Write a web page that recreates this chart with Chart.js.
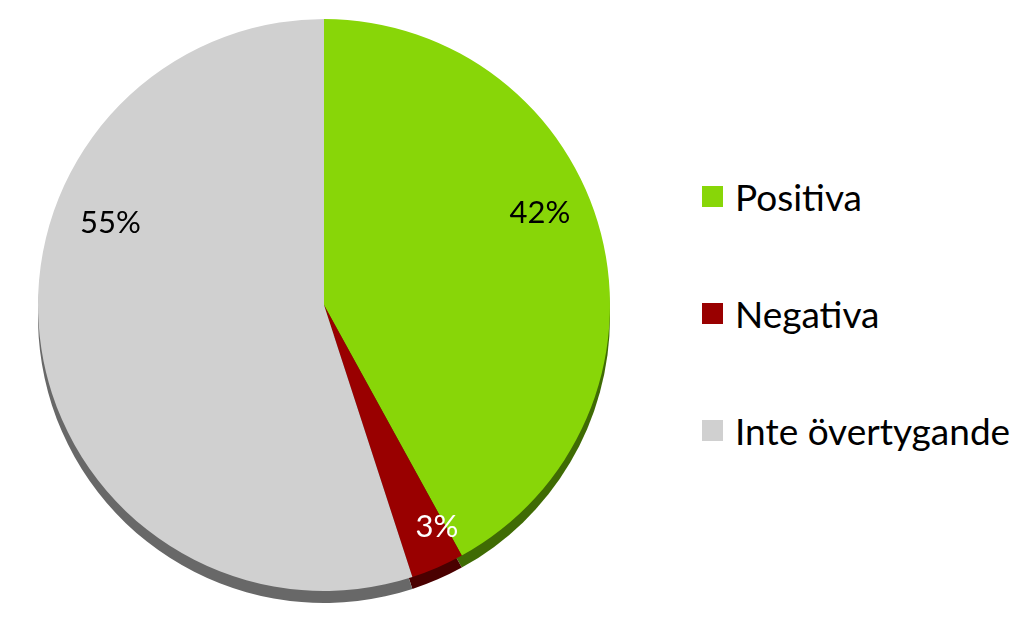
<!DOCTYPE html>
<html>
<head>
<meta charset="utf-8">
<script src="https://cdn.jsdelivr.net/npm/chart.js@4"></script>
<style>
  html, body { margin: 0; padding: 0; background: #fff; }
  #wrap { position: relative; width: 1024px; height: 630px; }
  #chartBox { position: absolute; left: 0; top: 0; width: 648px; height: 630px; }
  #legend { position: absolute; left: 702px; top: 0; font-family: Lato, "Open Sans", sans-serif; font-size: 37px; color: #000; }
  .item { position: absolute; left: 0; white-space: nowrap; display: flex; align-items: center; height: 44px; }
  .box { width: 21px; height: 21px; margin-right: 12px; }
</style>
</head>
<body>
<div id="wrap">
  <div id="chartBox"><canvas id="pie"></canvas></div>
  <div id="legend"></div>
</div>
<script>
// chart data
const categories = ["Positiva", "Negativa", "Inte övertygande"];
const shares = [42, 3, 55];
const pctLabels = ["42%", "3%", "55%"];

// styling
const faceColors = ["#88d608", "#990000", "#d0d0d0"];
const rimColors = ["#3f6b04", "#4a0000", "#686868"];
const labelColors = ["#000000", "#ffffff", "#000000"];
const labelPlace = [ // angle from top (deg, clockwise) and fraction of radius
  { angle: 67, r: 0.82 },
  { angle: 153, r: 0.87 },
  { angle: 291, r: 0.80 }
];
const rimDepth = 12;
const labelFont = "31px Lato";

// draws a darker copy of each slice shifted down, so a rim shows under the pie
const rimPlugin = {
  id: "rim",
  beforeDatasetsDraw(chart) {
    const ctx = chart.ctx;
    chart.getDatasetMeta(0).data.forEach((arc, i) => {
      const p = arc.getProps(["x", "y", "startAngle", "endAngle", "outerRadius"], true);
      ctx.save();
      ctx.beginPath();
      ctx.moveTo(p.x, p.y + rimDepth);
      ctx.arc(p.x, p.y + rimDepth, p.outerRadius, p.startAngle, p.endAngle);
      ctx.closePath();
      ctx.fillStyle = rimColors[i];
      ctx.fill();
      ctx.restore();
    });
  }
};

// percentage labels on the slices
const labelPlugin = {
  id: "pctLabels",
  afterDatasetsDraw(chart) {
    const ctx = chart.ctx;
    chart.getDatasetMeta(0).data.forEach((arc, i) => {
      const p = arc.getProps(["x", "y", "outerRadius"], true);
      const a = labelPlace[i].angle * Math.PI / 180;
      const d = p.outerRadius * labelPlace[i].r;
      ctx.save();
      ctx.font = labelFont + ", 'Open Sans', sans-serif";
      ctx.fillStyle = labelColors[i];
      ctx.textAlign = "center";
      ctx.textBaseline = "middle";
      ctx.fillText(pctLabels[i], p.x + Math.sin(a) * d, p.y - Math.cos(a) * d);
      ctx.restore();
    });
  }
};

function drawChart() {
  new Chart(document.getElementById("pie"), {
    type: "pie",
    data: {
      labels: categories,
      datasets: [{
        data: shares,
        backgroundColor: faceColors,
        borderWidth: 0,
        hoverOffset: 0
      }]
    },
    options: {
      responsive: true,
      maintainAspectRatio: false,
      animation: false,
      layout: { padding: { top: 19, bottom: 39, left: 0, right: 0 } },
      plugins: {
        legend: { display: false },
        tooltip: { enabled: false }
      }
    },
    plugins: [rimPlugin, labelPlugin]
  });
}

// make sure Lato is ready before the canvas text is drawn
document.fonts.load(labelFont).then(drawChart, drawChart);

// legend on the right
const legend = document.getElementById("legend");
const rowCenters = [196, 313, 430];
categories.forEach((name, i) => {
  const row = document.createElement("div");
  row.className = "item";
  row.style.top = (rowCenters[i] - 22) + "px";
  row.innerHTML = `<div class="box" style="background:${faceColors[i]}"></div><span>${name}</span>`;
  legend.appendChild(row);
});
</script>
</body>
</html>
